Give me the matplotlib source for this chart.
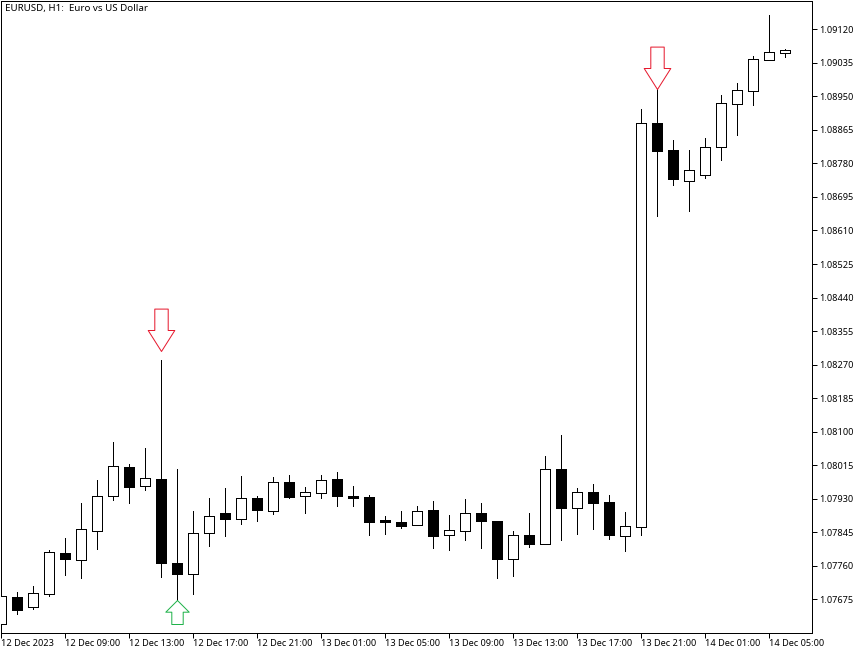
# %%
import matplotlib
matplotlib.use('Agg')
import matplotlib.pyplot as plt
from matplotlib.path import Path

# EURUSD H1 candles, prices in 1e-5 units
opens = [107613, 107681, 107655, 107689, 107792, 107775, 107849, 107936, 108010, 107963,
         107980, 107766, 107740, 107844, 107894, 107879, 107932, 107900, 107972, 107938,
         107945, 107980, 107937, 107934, 107876, 107871, 107864, 107901, 107839, 107849,
         107894, 107874, 107778, 107838, 107816, 108005, 107907, 107947, 107922, 107836,
         107859, 108882, 108813, 108736, 108751, 108822, 108931, 108964, 109043, 109061]
highs = [107683, 107694, 107709, 107800, 107830, 107919, 107977, 108074, 108018, 108059,
         108282, 108005, 107899, 107932, 107957, 107988, 107937, 107985, 107990, 107960,
         107990, 107998, 107962, 107939, 107886, 107899, 107912, 107924, 107889, 107929,
         107919, 107874, 107848, 107894, 108038, 108092, 107957, 107967, 107939, 107896,
         108918, 108969, 108839, 108814, 108844, 108953, 108984, 109052, 109156, 109070]
lows = [107613, 107639, 107651, 107683, 107737, 107729, 107803, 107927, 107919, 107952,
        107732, 107672, 107688, 107810, 107835, 107866, 107874, 107891, 107932, 107894,
        107932, 107912, 107912, 107838, 107841, 107856, 107863, 107805, 107800, 107825,
        107805, 107729, 107734, 107808, 107815, 107825, 107841, 107853, 107828, 107797,
        107838, 108647, 108725, 108659, 108743, 108789, 108852, 108928, 109043, 109051]
closes = [107683, 107649, 107690, 107794, 107777, 107852, 107936, 108012, 107960, 107982,
          107768, 107739, 107842, 107885, 107879, 107931, 107901, 107972, 107934, 107946,
          107977, 107937, 107932, 107871, 107871, 107861, 107898, 107835, 107850, 107893,
          107874, 107777, 107837, 107815, 108005, 107907, 107946, 107919, 107838, 107860,
          108882, 108811, 108741, 108763, 108822, 108932, 108965, 109044, 109062, 109067]

sell_idx = [10, 41]
sell_price = [108305, 108969]
buy_idx = [11]
buy_price = [107672]

ytick_vals = [107675, 107760, 107845, 107930, 108015, 108100, 108185, 108270, 108355, 108440,
              108525, 108610, 108695, 108780, 108865, 108950, 109035, 109120]
xtick_idx = [0, 4, 8, 12, 16, 20, 24, 28, 32, 36, 40, 44, 48]
xtick_labels = ['12 Dec 2023', '12 Dec 09:00', '12 Dec 13:00', '12 Dec 17:00', '12 Dec 21:00',
                '13 Dec 01:00', '13 Dec 05:00', '13 Dec 09:00', '13 Dec 13:00', '13 Dec 17:00',
                '13 Dec 21:00', '14 Dec 01:00', '14 Dec 05:00']

RED = '#e6192e'
GREEN = '#1fb24a'
FS = 6.6
W, H = 855, 650

plt.rcParams['font.family'] = 'Noto Sans'

# %%
fig = plt.figure(figsize=(W / 100, H / 100), dpi=100, facecolor='white')
ax = fig.add_axes([1 / W, 1 - 633 / H, 811 / W, 632 / H])
ax.set_xlim(-0.03, 50.66)
ax.set_ylim(107589.6, 109191.8)

for i in range(len(opens)):
    up = closes[i] >= opens[i]
    ax.vlines(i, lows[i], highs[i], color='black', lw=0.72, zorder=2, antialiased=False)
    ax.bar(i, abs(closes[i] - opens[i]), bottom=min(opens[i], closes[i]), width=10 / 16,
           facecolor='white' if up else 'black', edgecolor='black', lw=0.72, zorder=3,
           antialiased=False)

# arrow shapes, tip at origin, in pixels
down_arrow = Path([(0, 0), (13.3, 21), (6.7, 21), (6.7, 42.4), (-6.7, 42.4), (-6.7, 21), (-13.3, 21), (0, 0)],
                  closed=True)
up_arrow = Path([(0, 0), (11.7, -11.7), (5.7, -11.7), (5.7, -24), (-5.7, -24), (-5.7, -11.7), (-11.7, -11.7), (0, 0)],
                closed=True)
ax.plot(sell_idx, sell_price, ls='none', marker=down_arrow, ms=61.06, mfc='none', mec=RED, mew=0.72,
        zorder=4, clip_on=False, antialiased=False)
ax.plot(buy_idx, buy_price, ls='none', marker=up_arrow, ms=34.56, mfc='none', mec=GREEN, mew=0.72,
        zorder=4, clip_on=False, antialiased=False)

ax.yaxis.tick_right()
ax.set_yticks(ytick_vals)
ax.set_yticklabels([f'{v / 100000:.5f}' for v in ytick_vals], fontsize=FS)
ax.set_xticks(xtick_idx)
ax.set_xticklabels(xtick_labels, fontsize=FS, ha='left')
ax.tick_params(axis='both', length=3.6, width=0.72, color='black')
ax.tick_params(axis='y', pad=1.8)
ax.tick_params(axis='x', pad=0.5)

for s in ax.spines.values():
    s.set_linewidth(0.72)
    s.set_color('black')

ax.text(4 / 811, 1 - 3 / 632, 'EURUSD, H1:  Euro vs US Dollar', transform=ax.transAxes,
        fontsize=7.0, ha='left', va='top')

fig.savefig('out.png', dpi=100, facecolor='white')
